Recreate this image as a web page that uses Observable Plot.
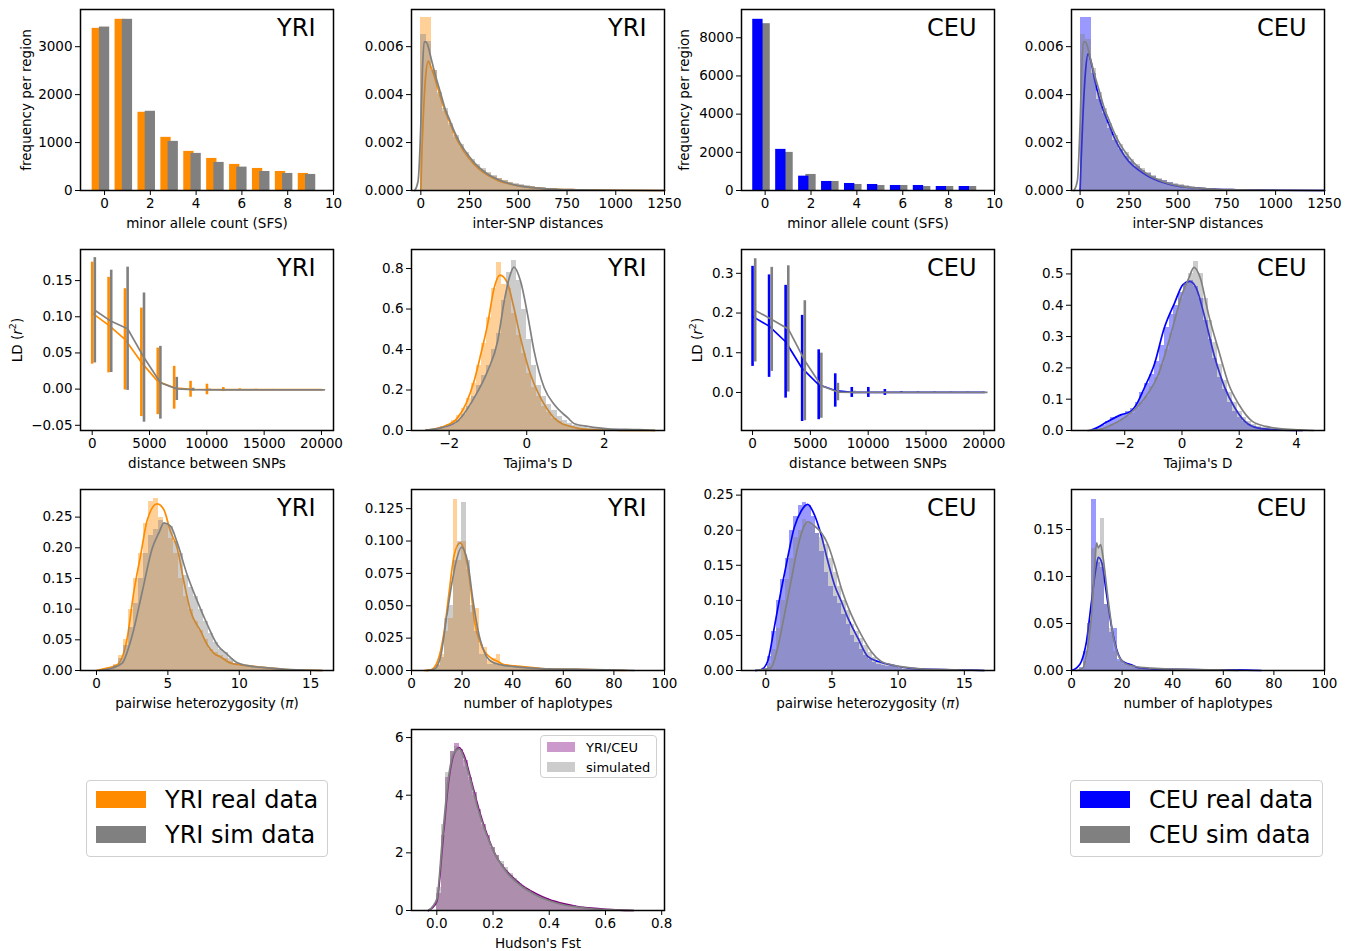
<!DOCTYPE html>
<html><head><meta charset="utf-8">
<script src="https://cdn.jsdelivr.net/npm/d3@7"></script>
<script src="https://cdn.jsdelivr.net/npm/@observablehq/plot@0.6"></script>
<style>
body{margin:0;background:#fff;font-family:"DejaVu Sans",sans-serif;}
#root{position:relative;width:1352px;height:951px;overflow:hidden;}
.lg{position:absolute;border:1px solid #d0d0d0;border-radius:4px;background:#fff;box-sizing:border-box;}
.lrow{position:absolute;display:flex;align-items:center;color:#000;white-space:nowrap;}
.sw{display:inline-block;}
</style></head>
<body><div id="root"></div>
<script>
// ---------------- DATA ----------------
const sfsK = [0,1,2,3,4,5,6,7,8,9];
const sfsYRIreal = [3383,3571,1632,1109,816,669,544,460,397,356];
const sfsYRIsim  = [3410,3571,1653,1025,774,586,488,397,356,335];
const sfsCEUreal = [8966,2154,751,473,368,315,263,263,210,210];
const sfsCEUsim  = [8737,1996,840,473,315,263,263,210,210,210];

// inter-SNP distance histograms (bin start, width, densities)
const distBins = {start:0, width:28};
const distYRIreal = [0.0072,0.0072,0.0050,0.0040,0.0033,0.0027,0.0022,0.0018,0.0015,0.0012,0.0010,0.00085,0.0007,0.00058,0.00048,0.0004,0.00033,0.00027,0.00022,0.00018,0.00015,0.00012,0.0001,0.00008,0.00007,0.00006,0.00005,0.00004,0.00003,0.00003,0.00002,0.00002,0.00002,0.00001,0.00001];
const distYRIsim  = [0.0065,0.0062,0.0050,0.0041,0.0034,0.0028,0.0023,0.0019,0.0016,0.0013,0.0011,0.0009,0.00075,0.00062,0.00051,0.00042,0.00035,0.00029,0.00024,0.0002,0.00016,0.00013,0.00011,0.00009,0.00007,0.00006,0.00005,0.00004,0.00003,0.00003,0.00002,0.00002,0.00001,0.00001];
const distCEUreal = [0.0072,0.0072,0.0049,0.0038,0.0032,0.0026,0.0021,0.0017,0.0014,0.0012,0.0010,0.00083,0.0007,0.00057,0.00047,0.0004,0.00032,0.00026,0.00021,0.00017,0.00014,0.00012,0.0001,0.00008,0.00007,0.00006,0.00005,0.00004,0.00003,0.00003,0.00002,0.00002,0.00001,0.00001];
const distCEUsim  = [0.0065,0.0063,0.0051,0.0041,0.0034,0.0028,0.0023,0.0019,0.0016,0.0013,0.0011,0.0009,0.00075,0.00062,0.00051,0.00042,0.00035,0.00029,0.00024,0.0002,0.00016,0.00013,0.00011,0.00009,0.00007,0.00006,0.00005,0.00004,0.00003,0.00003,0.00002,0.00002,0.00001,0.00001];
const kdeDistYRIreal = {x:[0,5,15,25,38,50,75,100,125,150,175,200,250,300,350,400,450,500,600,700,800,1000,1250], y:[0,0.0015,0.0035,0.0048,0.0054,0.0052,0.0046,0.0039,0.0033,0.0028,0.0023,0.0019,0.0013,0.00088,0.0006,0.0004,0.00028,0.00019,0.0001,0.00005,0.00003,0.00001,0]};
const kdeDistYRIsim  = {x:[-31,-14,0,8,17,25,38,50,75,100,125,150,175,200,250,300,350,400,450,500,600,700,800,1000,1250], y:[0,0.0004,0.0028,0.0050,0.0062,0.0062,0.0060,0.0056,0.0048,0.0041,0.0034,0.0029,0.0024,0.0020,0.0014,0.00095,0.00065,0.00045,0.0003,0.0002,0.0001,0.00005,0.00003,0.00001,0]};
const kdeDistCEUreal = {x:[0,5,15,28,41,55,75,100,125,150,175,200,250,300,350,400,450,500,600,700,800,1000,1250], y:[0,0.0012,0.0032,0.0050,0.0057,0.0054,0.0046,0.0038,0.0032,0.0027,0.0022,0.0018,0.0012,0.00085,0.00058,0.0004,0.00027,0.00018,0.0001,0.00005,0.00003,0.00001,0]};
const kdeDistCEUsim  = {x:[-31,-14,0,8,17,25,38,50,75,100,125,150,175,200,250,300,350,400,450,500,600,700,800,1000,1250], y:[0,0.0004,0.0028,0.0050,0.0062,0.0062,0.0060,0.0056,0.0048,0.0041,0.0034,0.0029,0.0024,0.0020,0.0014,0.00095,0.00065,0.00045,0.0003,0.0002,0.0001,0.00005,0.00003,0.00001,0]};

// LD decay
const ldXreal = [0,1430,2860,4290,5720,7150,8580,10010,11440,12870,14300,15730,17160,18590,20020];
const ldXsim  = [230,1660,3090,4520,5950,7380,8810,10240,11670,13100,14530,15960,17390,18820,20250];
const ldYRIrealMean = [0.105,0.0885,0.0688,0.037,0.0107,0.0019,-0.0002,-0.0005,-0.0006,-0.0008,-0.0008,-0.0008,-0.0008,-0.0008,-0.0008];
const ldYRIrealSd   = [0.0705,0.066,0.070,0.075,0.046,0.0296,0.011,0.0073,0.0028,0.0012,0.0006,0.0004,0.0003,0.0002,0.0002];
const ldYRIsimMean  = [0.109,0.0937,0.0834,0.0436,0.0088,0.0003,-0.0008,-0.001,-0.001,-0.001,-0.001,-0.001,-0.001,-0.001,-0.001];
const ldYRIsimSd    = [0.0728,0.0707,0.0852,0.0893,0.0503,0.016,0.002,0.001,0.0005,0.0003,0.0002,0.0002,0.0002,0.0002,0.0002];
const ldCEUrealMean = [0.1916,0.167,0.1277,0.0605,0.0194,0.005,0.0,0.0,0.0,0.0,0.0,0.0,0.0,0.0,0.0];
const ldCEUrealSd   = [0.126,0.129,0.142,0.1336,0.088,0.042,0.0126,0.0126,0.0075,0.002,0.001,0.0008,0.0006,0.0005,0.0004];
const ldCEUsimMean  = [0.2067,0.184,0.160,0.080,0.017,0.001,0.0,0.0,0.0,0.0,0.0,0.0,0.0,0.0,0.0];
const ldCEUsimSd    = [0.130,0.131,0.159,0.151,0.082,0.022,0.003,0.001,0.0008,0.0006,0.0005,0.0004,0.0003,0.0003,0.0003];

// Tajima's D
const tajYRIbins = {start:-2.6, width:0.13};
const tajYRIreal = [0.002,0.004,0.008,0.018,0.03,0.05,0.075,0.11,0.16,0.23,0.32,0.43,0.56,0.70,0.83,0.72,0.70,0.58,0.47,0.38,0.28,0.21,0.17,0.12,0.09,0.06,0.045,0.03,0.022,0.016,0.01,0.007,0.005,0.003,0.002,0.002,0.001,0.001];
const tajYRIsim  = [0.002,0.004,0.006,0.01,0.02,0.03,0.05,0.08,0.12,0.17,0.22,0.27,0.32,0.40,0.48,0.64,0.78,0.84,0.74,0.60,0.45,0.32,0.22,0.17,0.13,0.10,0.07,0.05,0.035,0.025,0.02,0.015,0.012,0.01,0.008,0.006,0.005,0.005,0.004,0.004,0.003,0.003,0.002,0.002,0.001];
const kdeTajYRIreal = {x:[-2.6,-2.14,-1.79,-1.57,-1.36,-1.18,-1.01,-0.84,-0.69,-0.5,-0.33,-0.16,0.1,0.36,0.55,0.71,0.9,1.14,1.4,1.8,2.4,3.3], y:[0.002,0.02,0.061,0.13,0.242,0.38,0.523,0.704,0.767,0.729,0.605,0.457,0.275,0.16,0.1,0.061,0.035,0.02,0.008,0.003,0.001,0]};
const kdeTajYRIsim  = {x:[-2.6,-2.23,-1.79,-1.36,-1.01,-0.75,-0.58,-0.45,-0.33,-0.16,0.02,0.19,0.45,0.71,1.06,1.23,1.57,2.09,2.9,3.3], y:[0.002,0.012,0.045,0.16,0.293,0.441,0.639,0.754,0.807,0.738,0.574,0.392,0.211,0.128,0.062,0.033,0.02,0.008,0.004,0.001]};
const tajCEUbins = {start:-3.0, width:0.17};
const tajCEUreal = [0.008,0.015,0.03,0.04,0.045,0.05,0.06,0.07,0.09,0.12,0.15,0.18,0.22,0.27,0.33,0.37,0.40,0.44,0.47,0.48,0.46,0.42,0.35,0.29,0.23,0.17,0.13,0.09,0.06,0.04,0.03,0.02,0.012,0.008,0.005,0.003];
const tajCEUsim  = [0.002,0.005,0.01,0.015,0.025,0.035,0.045,0.055,0.07,0.09,0.11,0.14,0.17,0.21,0.26,0.31,0.37,0.42,0.47,0.50,0.54,0.50,0.42,0.35,0.28,0.21,0.16,0.12,0.09,0.06,0.04,0.03,0.02,0.014,0.01,0.008,0.006,0.004,0.003,0.002,0.002,0.001];
const kdeTajCEUreal = {x:[-3.2,-3.0,-2.6,-2.14,-1.79,-1.55,-1.32,-0.97,-0.62,-0.26,0.035,0.27,0.5,0.8,1.15,1.5,1.85,2.2,2.67,3.37,4.2], y:[0.001,0.0075,0.0288,0.05,0.061,0.09,0.135,0.21,0.327,0.407,0.466,0.476,0.455,0.36,0.232,0.136,0.072,0.029,0.0075,0.002,0]};
const kdeTajCEUsim  = {x:[-3.3,-2.93,-2.46,-1.88,-1.3,-0.83,-0.36,0,0.24,0.42,0.64,0.93,1.29,1.64,1.99,2.46,2.93,3.4,4.1,4.6], y:[0,0.002,0.018,0.05,0.104,0.178,0.317,0.434,0.487,0.521,0.487,0.37,0.253,0.146,0.083,0.029,0.013,0.006,0.002,0]};

// pairwise heterozygosity
const piYRIbins = {start:0.5, width:0.35};
const piYRIreal = [0.002,0.005,0.01,0.025,0.05,0.10,0.15,0.19,0.24,0.275,0.28,0.25,0.24,0.215,0.19,0.15,0.12,0.10,0.08,0.065,0.05,0.035,0.03,0.025,0.02,0.015,0.01,0.008,0.006,0.005,0.004,0.004,0.003,0.002,0.002,0.001,0.001];
const piYRIsim  = [0.002,0.004,0.008,0.02,0.04,0.07,0.11,0.15,0.19,0.22,0.23,0.245,0.24,0.235,0.21,0.19,0.155,0.135,0.12,0.10,0.08,0.06,0.045,0.035,0.03,0.02,0.012,0.008,0.007,0.006,0.005,0.004,0.003,0.002,0.002,0.001,0.001];
const kdePiYRIreal = {x:[0,0.75,1.45,2.15,2.62,3.1,3.55,4.25,4.72,5.19,5.66,6.12,6.6,7.3,7.76,8.23,8.7,9.4,10.1,11.5,13.1,15.8], y:[0,0.0038,0.0093,0.0529,0.129,0.189,0.245,0.2717,0.262,0.226,0.199,0.145,0.096,0.064,0.042,0.028,0.022,0.012,0.0093,0.0054,0.002,0]};
const kdePiYRIsim  = {x:[0.2,1.1,1.8,2.5,3.2,3.9,4.4,4.72,5.19,5.66,6.35,7.06,7.76,8.46,9.17,9.87,10.8,12,13.6,15.8], y:[0,0.004,0.012,0.057,0.128,0.199,0.226,0.2407,0.2353,0.208,0.156,0.113,0.075,0.042,0.026,0.0125,0.0071,0.0044,0.0016,0]};
const piCEUbins = {start:-0.2, width:0.33};
const piCEUreal = [0.003,0.02,0.055,0.10,0.13,0.16,0.20,0.22,0.235,0.24,0.235,0.22,0.195,0.17,0.14,0.12,0.105,0.095,0.08,0.065,0.05,0.04,0.03,0.022,0.015,0.012,0.009,0.007,0.006,0.005,0.004,0.003,0.002,0.002,0.001];
const piCEUsim  = [0.001,0.01,0.03,0.06,0.10,0.13,0.16,0.19,0.20,0.215,0.21,0.205,0.195,0.19,0.18,0.16,0.14,0.12,0.10,0.085,0.065,0.055,0.045,0.035,0.025,0.018,0.012,0.009,0.007,0.006,0.005,0.004,0.003,0.002,0.002];
const kdePiCEUreal = {x:[-0.8,-0.38,0.13,0.63,1.14,1.65,2.15,2.66,3.16,3.67,4.17,4.68,5.19,5.69,6.2,6.96,7.7,8.47,9.2,9.99,11.5,14.3,16.5], y:[0,0.001,0.0129,0.0605,0.113,0.161,0.204,0.227,0.2367,0.222,0.194,0.156,0.122,0.099,0.075,0.046,0.02,0.0129,0.009,0.0057,0.0024,0.001,0]};
const kdePiCEUsim  = {x:[-0.8,0.38,0.89,1.4,1.9,2.4,2.9,3.16,3.67,4.17,4.68,5.19,5.69,6.45,7.2,7.96,8.72,9.5,10.5,12,14.3,16.5], y:[0,0.0038,0.0319,0.079,0.127,0.175,0.206,0.212,0.206,0.197,0.18,0.151,0.118,0.08,0.051,0.0271,0.0129,0.0081,0.0048,0.0019,0.001,0]};

// number of haplotypes
const hapYRIbins = {start:8, width:1.7};
const hapYRIreal = [0.001,0.005,0.012,0.03,0.04,0.132,0.085,0.100,0.078,0.045,0.048,0.02,0.018,0.008,0.009,0.012,0.004,0.005,0.004,0.003,0.003,0.002,0.002,0.002,0.001,0.001,0.001,0.001,0.001,0.001,0.001,0.001,0.0008,0.0008,0.0008,0.0006,0.0006,0.0005,0.0005,0.0005,0.0004,0.0004,0.0003,0.0003];
const hapYRIsim  = [0.0,0.004,0.01,0.04,0.05,0.085,0.10,0.13,0.085,0.05,0.03,0.012,0.012,0.005,0.005,0.004,0.003,0.003,0.003,0.002,0.002,0.002,0.002,0.001,0.001,0.001,0.001,0.001,0.001,0.001,0.0008,0.0008,0.0008,0.0006,0.0006,0.0005,0.0005,0.0005,0.0004,0.0004,0.0003,0.0003,0.0002,0.0002];
const kdeHapYRIreal = {x:[5,7.66,10.3,12.9,14.9,16.9,19.2,20.9,22.9,24.9,27.5,31.5,34.1,36.8,40.7,46,51.3,64.5,77.8,85], y:[0,0.0005,0.007,0.030,0.061,0.0895,0.0985,0.0921,0.0714,0.0379,0.0199,0.0095,0.007,0.0043,0.0036,0.0026,0.0015,0.0008,0.0003,0]};
const kdeHapYRIsim  = {x:[6,9,11.6,13.6,15.6,17.6,19.8,22.2,24.2,26.2,28.8,31.5,35.4,40.7,51.3,64.5,83,88], y:[0,0.001,0.0116,0.0374,0.0632,0.0839,0.0952,0.0839,0.0555,0.032,0.0142,0.007,0.0044,0.003,0.0015,0.001,0.0003,0]};
const hapCEUbins = {start:3, width:1.7};
const hapCEUreal = [0.003,0.02,0.05,0.182,0.115,0.11,0.07,0.04,0.045,0.012,0.008,0.007,0.004,0.003,0.002,0.002,0.0015,0.0012,0.001,0.001,0.0009,0.0008,0.0008,0.0007,0.0006,0.0006,0.0005,0.0005,0.0004,0.0004,0.0003,0.0003,0.0003,0.0002,0.0002,0.0002];
const hapCEUsim  = [0.0,0.01,0.05,0.13,0.13,0.162,0.07,0.045,0.02,0.01,0.006,0.004,0.003,0.002,0.002,0.0015,0.0012,0.001,0.001,0.0009,0.0008,0.0007,0.0006,0.0005,0.0005,0.0004,0.0004,0.0003,0.0003,0.0002];
const kdeHapCEUreal = {x:[0,1.9,3.9,5.9,7.9,9.9,10.6,12,13.7,15.7,17.7,19.7,21.7,23.7,26.3,31.6,42.2,55.4,68.8,75], y:[0,0.0025,0.0096,0.0305,0.073,0.1127,0.1205,0.1144,0.0842,0.0486,0.0237,0.0112,0.0078,0.006,0.003,0.0018,0.0011,0.0007,0.0004,0]};
const kdeHapCEUsim  = {x:[2,4.5,5.9,7.9,9.3,9.9,10.6,11.5,12.3,14.4,16.4,18.4,21,25,31.6,42.2,58,66], y:[0,0.0025,0.0167,0.0589,0.116,0.1357,0.1304,0.134,0.1233,0.0771,0.0379,0.0167,0.0078,0.0043,0.0025,0.0014,0.0007,0]};

// Hudson's Fst
const fstBins = {start:0.0, width:0.016};
const fstReal = [0.6,2.6,4.6,5.5,5.8,5.6,5.2,4.6,4.1,3.5,3.0,2.6,2.2,1.9,1.6,1.4,1.2,1.05,0.9,0.8,0.7,0.6,0.52,0.45,0.4,0.34,0.3,0.25,0.22,0.19,0.16,0.13,0.11,0.09,0.07,0.05,0.04,0.03,0.02,0.015];
const fstSim  = [0.8,3.0,4.8,5.5,5.7,5.5,5.0,4.5,4.0,3.4,2.9,2.5,2.2,1.9,1.7,1.5,1.3,1.1,0.95,0.8,0.7,0.6,0.5,0.42,0.36,0.3,0.26,0.22,0.18,0.15,0.12,0.1,0.08,0.06,0.045,0.035,0.025,0.02,0.015,0.01];
const kdeFstReal = {x:[-0.03,0.0,0.02,0.04,0.06,0.08,0.1,0.12,0.15,0.18,0.21,0.25,0.3,0.35,0.4,0.45,0.5,0.55,0.6,0.65,0.7], y:[0,0.3,2.2,4.3,5.4,5.65,5.3,4.6,3.5,2.6,1.9,1.35,0.9,0.6,0.38,0.24,0.14,0.08,0.04,0.015,0]};
const kdeFstSim  = {x:[-0.03,0.0,0.02,0.04,0.06,0.08,0.1,0.12,0.15,0.18,0.21,0.25,0.3,0.35,0.4,0.45,0.5,0.55,0.6,0.65,0.7], y:[0,0.4,2.5,4.5,5.45,5.6,5.2,4.5,3.4,2.55,1.9,1.3,0.85,0.55,0.34,0.2,0.12,0.06,0.03,0.01,0]};

// ---------------- LAYOUT ----------------
const ORANGE="#ff8c00", GRAY="#808080", BLUE="#0000ff", PURPLE="#800080";
const root = document.getElementById("root");
const colX=[80,410.5,740.5,1070.5], rowY=[8.5,248.5,488.5,728.5];
const FW=253, FH=181, ML=80, MR=20, MT=10, MB=52;

function hist(bins, vals, color){
  const data = vals.map((v,i)=>({x1:bins.start+i*bins.width, x2:bins.start+(i+1)*bins.width, y:v}));
  return Plot.rect(data,{x1:"x1",x2:"x2",y1:()=>0,y2:"y",fill:color,fillOpacity:0.4,shapeRendering:"crispEdges"});
}
function kde(k,color){
  return Plot.line(k.x.map((x,i)=>({x,y:k.y[i]})),{x:"x",y:"y",stroke:color,strokeWidth:1.7,curve:"monotone-x"});
}
function bars(vals,color,lo,hi){
  return Plot.rect(vals.map((v,i)=>({k:sfsK[i],v})),{x1:d=>d.k+lo,x2:d=>d.k+hi,y1:()=>0,y2:"v",fill:color});
}
function ld(xs,mean,sd,color){
  const data = xs.map((x,i)=>({x,m:mean[i],s:sd[i]}));
  return [Plot.ruleX(data,{x:"x",y1:d=>d.m-d.s,y2:d=>d.m+d.s,stroke:color,strokeWidth:2.6}),
          Plot.line(data,{x:"x",y:"m",stroke:color,strokeWidth:1.7})];
}

function panel(o){
  const marks = [
    ...o.marks,
    Plot.frame({stroke:"black",strokeWidth:1.5}),
    Plot.axisX({ticks:o.xTicks,tickFormat:o.xFmt,tickSize:5,tickPadding:3,label:null}),
    Plot.axisY({ticks:o.yTicks,tickFormat:o.yFmt,tickSize:5,tickPadding:3,label:null}),
    Plot.text([o.xLabel],{text:d=>d,frameAnchor:"bottom",dy:33,textAnchor:"middle",lineAnchor:"middle",fontSize:13.5}),
  ];
  if(o.yLabel) marks.push(Plot.text([o.yLabel],{text:d=>d,frameAnchor:"left",rotate:-90,dx:-o.yLabelDx,textAnchor:"middle",lineAnchor:"middle",fontSize:13.5}));
  if(o.tag) marks.push(Plot.text([o.tag],{text:d=>d,frameAnchor:"top-right",dx:-18,dy:9,textAnchor:"end",lineAnchor:"top",fontSize:24}));
  const svg = Plot.plot({
    width:FW+ML+MR, height:FH+MT+MB, marginLeft:ML, marginRight:MR, marginTop:MT, marginBottom:MB,
    style:{fontFamily:"DejaVu Sans, sans-serif",fontSize:"13.5px",color:"black",background:"transparent",overflow:"visible"},
    x:{domain:o.xDomain}, y:{domain:o.yDomain},
    marks
  });
  svg.style.position="absolute";
  svg.style.left=(colX[o.col]-ML)+"px";
  svg.style.top=(rowY[o.row]-MT)+"px";
  d3.select(svg).selectAll("text").each(function(){
    const t=this.textContent;
    if(t==="LD (r2)") this.innerHTML='LD (<tspan font-style="italic">r</tspan><tspan dy="-6" font-size="9.5">2</tspan><tspan dy="6">)</tspan>';
    if(t==="pairwise heterozygosity (pi)") this.innerHTML='pairwise heterozygosity (<tspan font-style="italic">π</tspan>)';
  });
  root.appendChild(svg);
}
const f0=d3.format("d"), f1=d3.format(".1f"), f2=d3.format(".2f"), f3=d3.format(".3f");

// Row 1
panel({col:0,row:0,xDomain:[-1.05,10],yDomain:[0,3776],xTicks:[0,2,4,6,8,10],yTicks:[0,1000,2000,3000],xFmt:f0,yFmt:f0,
  xLabel:"minor allele count (SFS)",yLabel:"frequency per region",yLabelDx:54,tag:"YRI",
  marks:[bars(sfsYRIreal,ORANGE,-0.54,-0.09),bars(sfsYRIsim,GRAY,-0.225,0.225)]});
panel({col:1,row:0,xDomain:[-48,1250],yDomain:[0,0.00755],xTicks:[0,250,500,750,1000,1250],yTicks:[0,0.002,0.004,0.006],xFmt:f0,yFmt:f3,
  xLabel:"inter-SNP distances",tag:"YRI",
  marks:[hist(distBins,distYRIreal,ORANGE),kde(kdeDistYRIreal,ORANGE),hist(distBins,distYRIsim,GRAY),kde(kdeDistYRIsim,GRAY)]});
panel({col:2,row:0,xDomain:[-1.03,10],yDomain:[0,9480],xTicks:[0,2,4,6,8,10],yTicks:[0,2000,4000,6000,8000],xFmt:f0,yFmt:f0,
  xLabel:"minor allele count (SFS)",yLabel:"frequency per region",yLabelDx:57,tag:"CEU",
  marks:[bars(sfsCEUsim,GRAY,-0.225,0.225),bars(sfsCEUreal,BLUE,-0.54,-0.09)]});
panel({col:3,row:0,xDomain:[-44,1250],yDomain:[0,0.00755],xTicks:[0,250,500,750,1000,1250],yTicks:[0,0.002,0.004,0.006],xFmt:f0,yFmt:f3,
  xLabel:"inter-SNP distances",tag:"CEU",
  marks:[hist(distBins,distCEUreal,BLUE),kde(kdeDistCEUreal,BLUE),hist(distBins,distCEUsim,GRAY),kde(kdeDistCEUsim,GRAY)]});
// Row 2
panel({col:0,row:1,xDomain:[-1020,21050],yDomain:[-0.0572,0.193],xTicks:[0,5000,10000,15000,20000],yTicks:[-0.05,0,0.05,0.1,0.15],xFmt:f0,yFmt:f2,
  xLabel:"distance between SNPs",yLabel:"LD (r2)",yLabelDx:63,tag:"YRI",
  marks:[...ld(ldXreal,ldYRIrealMean,ldYRIrealSd,ORANGE),...ld(ldXsim,ldYRIsimMean,ldYRIsimSd,GRAY)]});
panel({col:1,row:1,xDomain:[-2.97,3.55],yDomain:[0,0.894],xTicks:[-2,0,2],yTicks:[0,0.2,0.4,0.6,0.8],xFmt:f0,yFmt:f1,
  xLabel:"Tajima's D",tag:"YRI",
  marks:[hist(tajYRIbins,tajYRIreal,ORANGE),kde(kdeTajYRIreal,ORANGE),hist(tajYRIbins,tajYRIsim,GRAY),kde(kdeTajYRIsim,GRAY)]});
panel({col:2,row:1,xDomain:[-955,20920],yDomain:[-0.0958,0.36],xTicks:[0,5000,10000,15000,20000],yTicks:[0,0.1,0.2,0.3],xFmt:f0,yFmt:f1,
  xLabel:"distance between SNPs",yLabel:"LD (r2)",yLabelDx:44,tag:"CEU",
  marks:[...ld(ldXreal,ldCEUrealMean,ldCEUrealSd,BLUE),...ld(ldXsim,ldCEUsimMean,ldCEUsimSd,GRAY)]});
panel({col:3,row:1,xDomain:[-3.86,4.98],yDomain:[0,0.578],xTicks:[-2,0,2,4],yTicks:[0,0.1,0.2,0.3,0.4,0.5],xFmt:f0,yFmt:f1,
  xLabel:"Tajima's D",tag:"CEU",
  marks:[hist(tajCEUbins,tajCEUreal,BLUE),kde(kdeTajCEUreal,BLUE),hist(tajCEUbins,tajCEUsim,GRAY),kde(kdeTajCEUsim,GRAY)]});
// Row 3
panel({col:0,row:2,xDomain:[-1.12,16.6],yDomain:[0,0.295],xTicks:[0,5,10,15],yTicks:[0,0.05,0.1,0.15,0.2,0.25],xFmt:f0,yFmt:f2,
  xLabel:"pairwise heterozygosity (pi)",tag:"YRI",
  marks:[hist(piYRIbins,piYRIreal,ORANGE),kde(kdePiYRIreal,ORANGE),hist(piYRIbins,piYRIsim,GRAY),kde(kdePiYRIsim,GRAY)]});
panel({col:1,row:2,xDomain:[0,100],yDomain:[0,0.1398],xTicks:[0,20,40,60,80,100],yTicks:[0,0.025,0.05,0.075,0.1,0.125],xFmt:f0,yFmt:f3,
  xLabel:"number of haplotypes",tag:"YRI",
  marks:[hist(hapYRIbins,hapYRIreal,ORANGE),kde(kdeHapYRIreal,ORANGE),hist(hapYRIbins,hapYRIsim,GRAY),kde(kdeHapYRIsim,GRAY)]});
panel({col:2,row:2,xDomain:[-1.84,17.28],yDomain:[0,0.258],xTicks:[0,5,10,15],yTicks:[0,0.05,0.1,0.15,0.2,0.25],xFmt:f0,yFmt:f2,
  xLabel:"pairwise heterozygosity (pi)",tag:"CEU",
  marks:[hist(piCEUbins,piCEUreal,BLUE),kde(kdePiCEUreal,BLUE),hist(piCEUbins,piCEUsim,GRAY),kde(kdePiCEUsim,GRAY)]});
panel({col:3,row:2,xDomain:[0,100],yDomain:[0,0.1926],xTicks:[0,20,40,60,80,100],yTicks:[0,0.05,0.1,0.15],xFmt:f0,yFmt:f2,
  xLabel:"number of haplotypes",tag:"CEU",
  marks:[hist(hapCEUbins,hapCEUreal,BLUE),kde(kdeHapCEUreal,BLUE),hist(hapCEUbins,hapCEUsim,GRAY),kde(kdeHapCEUsim,GRAY)]});
// Row 4
panel({col:1,row:3,xDomain:[-0.09,0.81],yDomain:[0,6.28],xTicks:[0,0.2,0.4,0.6,0.8],yTicks:[0,2,4,6],xFmt:f1,yFmt:f0,
  xLabel:"Hudson's Fst",
  marks:[hist(fstBins,fstReal,PURPLE),kde(kdeFstReal,PURPLE),hist(fstBins,fstSim,GRAY),kde(kdeFstSim,GRAY)]});

// ---------------- LEGENDS ----------------
function legend(left,top,w,h,items,fs,swW,swH,gap,rowTops,textLeft){
  const box=document.createElement("div");
  box.className="lg";
  Object.assign(box.style,{left:left+"px",top:top+"px",width:w+"px",height:h+"px"});
  items.forEach((it,i)=>{
    const r=document.createElement("div"); r.className="lrow";
    Object.assign(r.style,{left:gap+"px",top:rowTops[i]+"px",fontSize:fs+"px",height:swH+"px"});
    const s=document.createElement("span"); s.className="sw";
    Object.assign(s.style,{width:swW+"px",height:swH+"px",background:it.color,marginRight:(textLeft-gap-swW)+"px"});
    r.appendChild(s); r.appendChild(document.createTextNode(it.label)); box.appendChild(r);
  });
  root.appendChild(box);
}
legend(86,780,242,77,[{label:"YRI real data",color:ORANGE},{label:"YRI sim data",color:GRAY}],24,50,17,9,[10,45],78);
legend(1070,780,253,77,[{label:"CEU real data",color:BLUE},{label:"CEU sim data",color:GRAY}],24,50,17,9,[10,45],78);
legend(540,735,117,43,[{label:"YRI/CEU",color:"rgba(128,0,128,0.4)"},{label:"simulated",color:"rgba(128,128,128,0.4)"}],13,28,10,6,[6,26],45);
</script></body></html>
